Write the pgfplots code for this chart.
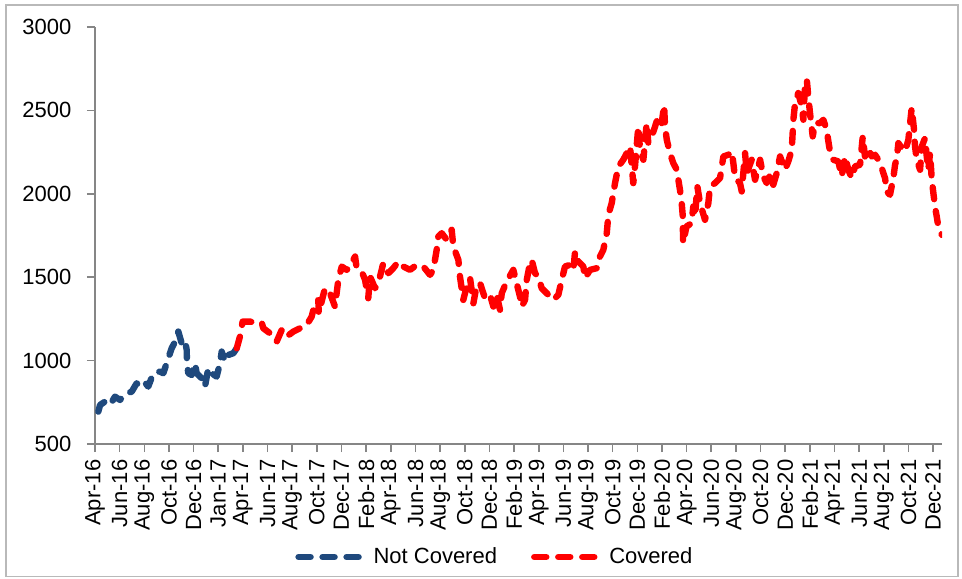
\documentclass[border=0pt]{standalone}
\usepackage{pgfplots}
\pgfplotsset{compat=1.18}
\usepackage{fontspec}
\setmainfont{Liberation Sans}
\definecolor{ncblue}{RGB}{31,73,125}
\definecolor{axgray}{RGB}{134,134,134}
\definecolor{framegray}{RGB}{185,185,185}
\begin{document}
\fontsize{11}{13}\selectfont
\begin{tikzpicture}
\path[use as bounding box] (-47.5pt,222pt) rectangle (433.5pt,-67pt);
\draw[framegray, line width=0.75pt] (-44.5pt,219.5pt) rectangle (431.5pt,-66.3pt);
\begin{axis}[
  at={(0pt,0pt)}, anchor=south west,
  scale only axis, width=423.5pt, height=208.5pt,
  xmin=0, xmax=68.72, ymin=500, ymax=3000,
  axis x line*=bottom, axis y line*=left,
  axis line style={axgray, line width=0.8pt},
  every tick/.style={axgray, line width=0.8pt},
  tick align=outside, major tick length=4pt,
  xtick={0,2,...,68},
  xticklabels={Apr-16,Jun-16,Aug-16,Oct-16,Dec-16,Jan-17,Apr-17,Jun-17,Aug-17,Oct-17,Dec-17,Feb-18,Apr-18,Jun-18,Aug-18,Oct-18,Dec-18,Feb-19,Apr-19,Jun-19,Aug-19,Oct-19,Dec-19,Feb-20,Apr-20,Jun-20,Aug-20,Oct-20,Dec-20,Feb-21,Apr-21,Jun-21,Aug-21,Oct-21,Dec-21},
  xticklabel style={rotate=90, anchor=east, yshift=0pt},
  ytick={500,1000,...,3000},
  yticklabel style={xshift=-4pt},
  /pgf/number format/assume math mode=true,
  /pgf/number format/1000 sep={},
  legend columns=2,
  legend style={draw=none, fill=none, at={(rel axis cs:0.229,-0.271)}, anchor=west,
    /tikz/every even column/.append style={column sep=15pt}},
  legend image code/.code={\path[draw=none,fill=none] (0pt,0pt) -- (37pt,0pt);\draw[#1] (1.5pt,0pt) -- (31.5pt,0pt);},
]
\addplot[ncblue, line width=3.2pt, dash pattern=on 6pt off 6pt, line cap=round, line join=round] table {
x y
0.27 694
0.41 734
0.81 754
1.22 734
1.62 784
2.03 764
2.43 800
2.98 814
3.38 864
3.65 844
4.06 868
4.32 844
4.73 924
5.27 934
5.54 924
5.95 1014
6.22 1074
6.57 1124
6.76 1174
7.03 1104
7.30 1124
7.44 1064
7.46 984
7.57 924
7.85 914
8.11 984
8.25 924
8.66 894
8.92 844
9.19 954
9.47 924
9.87 904
10.14 984
10.28 1054
10.55 994
10.82 1034
11.22 1044
11.50 1074
};
\addlegendentry{Not Covered}
\addplot[red, line width=3.2pt, dash pattern=on 6pt off 6pt, line cap=round, line join=round] table {
x y
11.50 1074
11.76 1144
11.98 1234
12.58 1234
13.12 1224
13.53 1228
13.65 1194
14.20 1164
14.74 1114
15.15 1184
15.55 1144
16.09 1174
16.63 1194
17.18 1214
17.58 1264
17.85 1344
18.12 1364
18.15 1284
18.66 1434
19.07 1404
19.47 1324
19.74 1484
20.02 1564
20.42 1544
20.69 1564
21.10 1624
21.23 1554
21.64 1534
21.91 1484
22.17 1374
22.31 1504
22.72 1434
22.99 1464
23.39 1584
23.80 1524
24.20 1554
24.61 1594
25.01 1564
25.56 1544
26.10 1574
26.64 1564
27.18 1514
27.45 1544
27.72 1664
27.85 1744
28.13 1764
28.54 1724
28.94 1784
29.07 1684
29.48 1604
29.61 1504
29.88 1364
30.16 1444
30.43 1494
30.70 1344
30.97 1454
31.24 1464
31.64 1374
32.05 1394
32.32 1324
32.59 1394
32.86 1304
33.00 1404
33.40 1474
33.94 1544
34.21 1464
34.48 1384
34.62 1324
34.89 1364
35.03 1484
35.29 1584
35.43 1604
35.70 1524
35.97 1504
36.24 1434
36.65 1404
37.18 1364
37.59 1394
37.87 1484
38.13 1564
38.54 1574
38.81 1544
38.95 1654
39.21 1594
39.62 1564
39.76 1494
40.16 1544
40.71 1554
40.97 1624
41.24 1664
41.52 1764
41.65 1874
41.92 1944
42.19 2064
42.46 2164
42.86 2204
43.14 2244
43.41 2284
43.67 2064
43.81 2164
44.08 2404
44.22 2264
44.49 2204
44.76 2424
44.89 2304
45.17 2344
45.44 2404
45.70 2464
45.98 2424
46.17 2532
46.25 2404
46.39 2324
46.65 2244
46.92 2184
47.20 2144
47.46 2024
47.60 1944
47.69 1864
47.71 1704
47.99 1804
48.40 1824
48.54 1924
48.68 1864
48.87 2044
49.09 1944
49.49 1844
49.76 1944
49.90 2044
50.30 2064
50.71 2094
50.98 2224
51.38 2234
51.66 2254
51.79 2184
51.93 2094
52.33 2064
52.47 2014
52.74 2244
52.88 2124
53.28 2204
53.55 2084
53.96 2204
54.22 2104
54.50 2064
54.77 2114
55.03 2054
55.31 2124
55.58 2224
55.98 2144
56.25 2194
56.53 2264
56.66 2444
56.80 2544
57.06 2604
57.34 2524
57.47 2444
57.61 2664
57.75 2684
57.87 2584
58.01 2484
58.23 2344
58.42 2424
58.82 2424
59.09 2444
59.36 2384
59.50 2314
59.63 2254
59.90 2204
60.31 2194
60.58 2104
60.85 2224
61.12 2144
61.40 2094
61.66 2164
62.07 2174
62.29 2344
62.47 2224
62.74 2274
63.02 2224
63.29 2234
63.55 2204
63.83 2154
64.10 2094
64.23 2014
64.50 1994
64.77 2094
64.91 2174
65.05 2214
65.18 2304
65.45 2274
65.72 2254
65.99 2324
66.13 2424
66.26 2514
66.45 2384
66.53 2284
66.67 2204
66.94 2144
67.08 2284
67.34 2334
67.48 2224
67.61 2144
67.75 2244
67.89 2084
68.02 2004
68.15 1924
68.29 1864
68.42 1804
68.70 1754
};
\addlegendentry{Covered}
\end{axis}
\end{tikzpicture}
\end{document}
